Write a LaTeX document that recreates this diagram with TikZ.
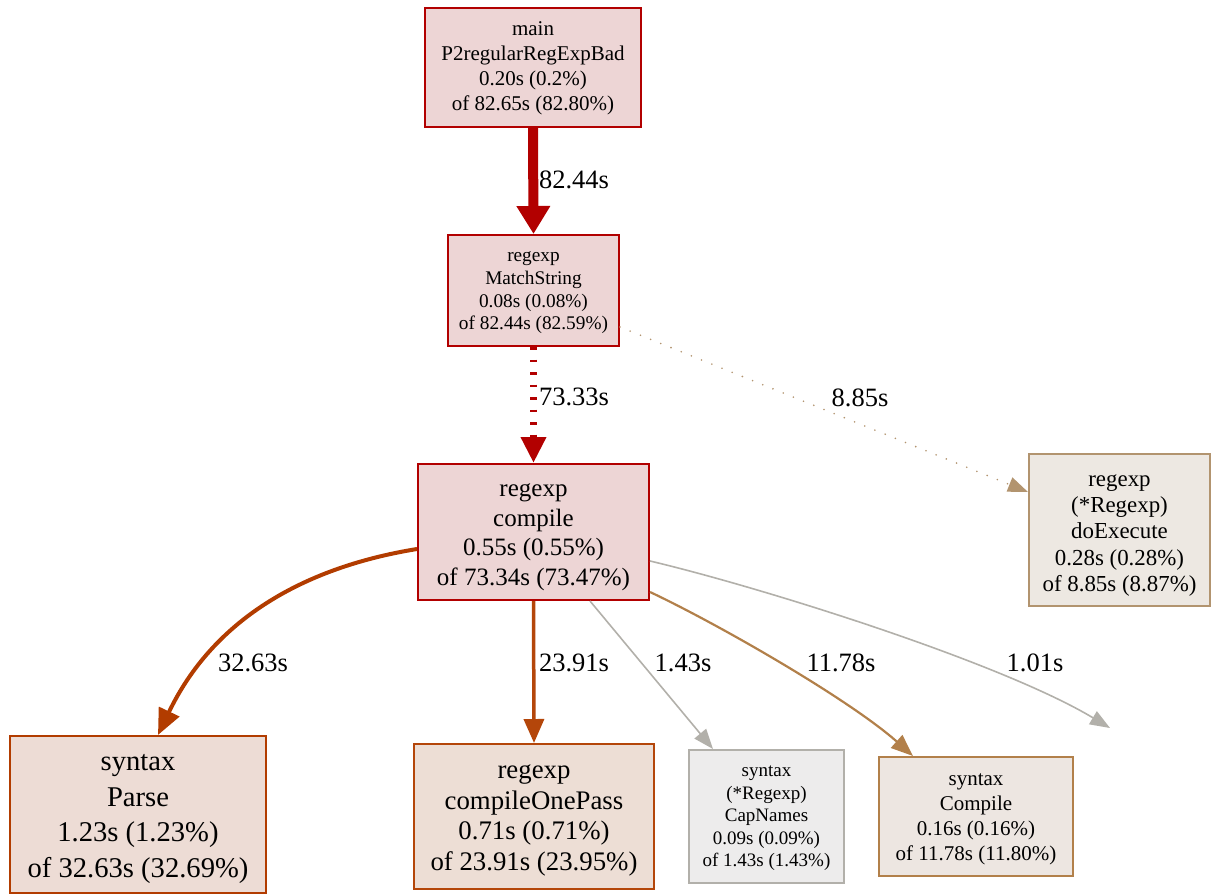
\documentclass[tikz,border=0pt]{standalone}
\usepackage{fontspec}
\setmainfont{Liberation Serif}
\newfontfamily\graphfont{Liberation Serif}
\usetikzlibrary{arrows.meta}

% palette of the call graph
\definecolor{hotline}{HTML}{B20000}
\definecolor{hotfill}{HTML}{EDD5D5}
\definecolor{parseline}{HTML}{B23C00}
\definecolor{parsefill}{HTML}{EDDCD5}
\definecolor{passline}{HTML}{B4460A}
\definecolor{passfill}{HTML}{EDDED5}
\definecolor{greyline}{HTML}{B2B0AA}
\definecolor{greyfill}{HTML}{EDECEC}
\definecolor{brownline}{HTML}{B2804A}
\definecolor{brownfill}{HTML}{EDE6E1}
\definecolor{tanline}{HTML}{B2946F}
\definecolor{tanfill}{HTML}{EDE8E2}

% tall strut on a first line, sets how low a text block sits in its box
\newcommand{\firstlift}[1]{\rule{0pt}{#1}}

\begin{document}
\begin{tikzpicture}[x=1pt,y=-1pt,
  fnbox/.style={draw, line width=2pt, inner sep=0pt, align=center, text=black},
  fs/.style 2 args={font=\graphfont\fontsize{#1}{#2}\selectfont},
  lbl/.style={inner sep=0pt, font=\graphfont\fontsize{26.5}{30}\selectfont},
]
\useasboundingbox (0,0) rectangle (1214,894);

% functions
\node[fnbox, draw=hotline, fill=hotfill, minimum width=216pt, minimum height=119pt, fs={21}{25}]
  (main) at (533,67.5) {\firstlift{15.5pt}main\\P2regularRegExpBad\\0.20s (0.2\%)\\of 82.65s (82.80\%)};
\node[fnbox, draw=hotline, fill=hotfill, minimum width=171pt, minimum height=111pt, fs={19.3}{22.7}]
  (ms) at (533.5,290.5) {\firstlift{14.9pt}regexp\\MatchString\\0.08s (0.08\%)\\of 82.44s (82.59\%)};
\node[fnbox, draw=hotline, fill=hotfill, minimum width=231pt, minimum height=136pt, fs={25}{29.5}]
  (comp) at (533.5,532) {\firstlift{23.6pt}regexp\\compile\\0.55s (0.55\%)\\of 73.34s (73.47\%)};
\node[fnbox, draw=tanline, fill=tanfill, minimum width=181pt, minimum height=152pt, fs={22.9}{26.3}]
  (exec) at (1119.5,530) {\firstlift{22.4pt}regexp\\(*Regexp)\\doExecute\\0.28s (0.28\%)\\of 8.85s (8.87\%)};
\node[fnbox, draw=parseline, fill=parsefill, minimum width=256pt, minimum height=157pt, fs={28.6}{35.7}]
  (parse) at (138,814.5) {\firstlift{25pt}syntax\\Parse\\1.23s (1.23\%)\\of 32.63s (32.69\%)};
\node[fnbox, draw=passline, fill=passfill, minimum width=240pt, minimum height=145pt, fs={26.8}{30.8}]
  (pass) at (534,816.5) {\firstlift{21.6pt}regexp\\compileOnePass\\0.71s (0.71\%)\\of 23.91s (23.95\%)};
\node[fnbox, draw=greyline, fill=greyfill, minimum width=155pt, minimum height=133pt, fs={19}{22.5}]
  (caps) at (766.5,816.5) {\firstlift{14.8pt}syntax\\(*Regexp)\\CapNames\\0.09s (0.09\%)\\of 1.43s (1.43\%)};
\node[fnbox, draw=brownline, fill=brownfill, minimum width=194pt, minimum height=119pt, fs={21}{25}]
  (scomp) at (976,816.5) {\firstlift{16.5pt}syntax\\Compile\\0.16s (0.16\%)\\of 11.78s (11.80\%)};

% end of the call whose callee lies outside the frame
\coordinate (offend) at (1110,728);

% calls
\draw[hotline, line width=10pt, -{Triangle[length=28pt,width=32pt]}]
  (main.south) -- (ms.north);
\draw[hotline, line width=7.5pt, dash pattern=on 2.5pt off 10pt, -{Triangle[length=26pt,width=24pt]}]
  (ms.south) -- (comp.north);
\draw[tanline, line width=1.8pt, line cap=round, dash pattern=on 0pt off 11pt, -{Triangle[length=20pt,width=15pt]}]
  ([yshift=-36.5pt]ms.east) -- ([yshift=38pt]exec.west);
\draw[parseline, line width=4pt, -{Triangle[length=26pt,width=22pt]}]
  ([yshift=-17pt]comp.west) .. controls (300,568) and (212,622) .. ([xshift=20pt]parse.north);
\draw[passline, line width=3.5pt, -{Triangle[length=24pt,width=20pt]}]
  (comp.south) -- (pass.north);
\draw[greyline, line width=1.6pt, -{Triangle[length=20pt,width=15pt]}]
  ([xshift=56.5pt]comp.south) -- ([xshift=-53.5pt]caps.north);
\draw[brownline, line width=2.2pt, -{Triangle[length=22pt,width=17pt]}]
  ([yshift=-60pt]comp.east) .. controls (720,625) and (850,700) .. ([xshift=-63pt]scomp.north);
\draw[greyline, line width=1.6pt, -{Triangle[length=20pt,width=15pt]}]
  ([yshift=-29pt]comp.east) .. controls (760,587) and (1000,662) .. (offend);

% call weights
\node[lbl] (w1) at (574,180) {82.44s};
\node[lbl] (w2) at (574,397) {73.33s};
\node[lbl] (w3) at (860,398) {8.85s};
\node[lbl] (w4) at (253,663) {32.63s};
\node[lbl] (w5) at (574,663) {23.91s};
\node[lbl] (w6) at (683,663) {1.43s};
\node[lbl] (w7) at (841,663) {11.78s};
\node[lbl] (w8) at (1035,663) {1.01s};
\end{tikzpicture}
\end{document}
